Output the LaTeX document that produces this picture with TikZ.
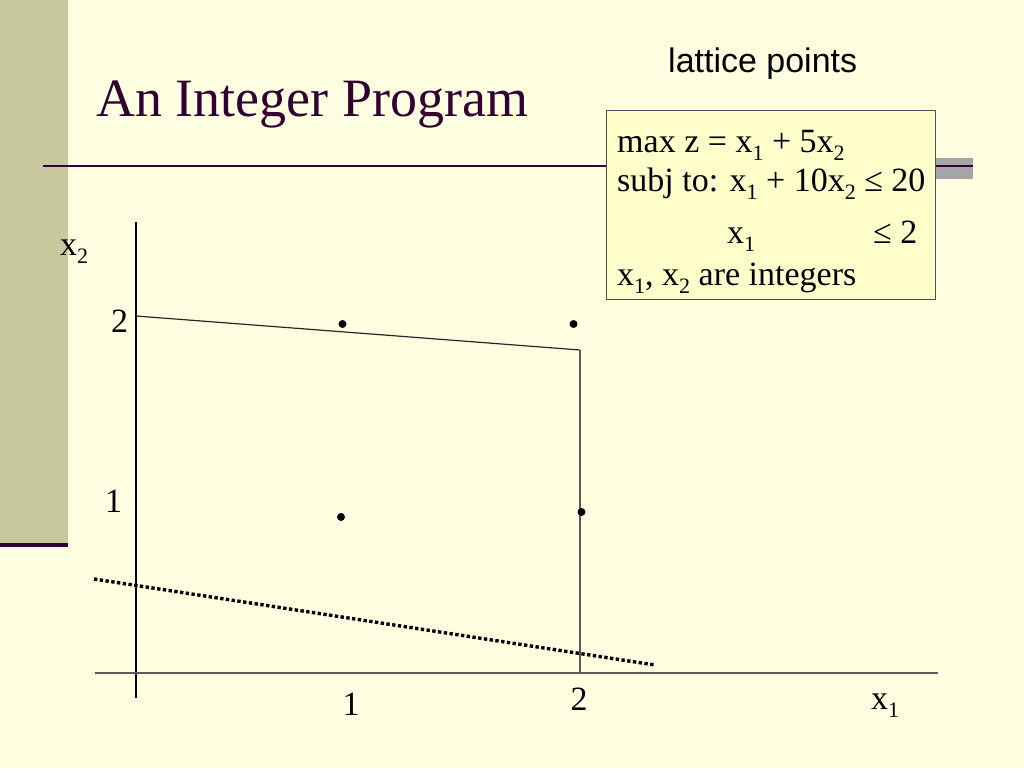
\documentclass[tikz,border=0pt]{standalone}
\usepackage{fontspec}
\setmainfont{Liberation Serif}
\newfontfamily\arialfont{Liberation Sans}
\definecolor{bgcol}{HTML}{FFFFE1}
\definecolor{barcol}{HTML}{C8C89E}
\definecolor{titlecol}{HTML}{330033}
\definecolor{boxfill}{HTML}{FFFFCC}
\definecolor{boxborder}{HTML}{505050}
\definecolor{graybar}{HTML}{A6A6A6}
\definecolor{axisgray}{HTML}{5A5A5A}
\newcommand{\sbs}[1]{\raisebox{-0.24em}{\fontsize{22}{24}\selectfont #1}}
\begin{document}
\begin{tikzpicture}[x=1pt,y=-1pt,
  lbl/.style={anchor=base west,inner sep=0,font=\fontsize{34}{40}\selectfont},
  lblc/.style={anchor=base,inner sep=0,font=\fontsize{34}{40}\selectfont},
  dot/.style={circle,fill=black,inner sep=0,minimum size=8pt},
  thinline/.style={line width=1.2pt},
  ]
\useasboundingbox (0,0) rectangle (1024,768);
\fill[bgcol] (0,0) rectangle (1024,768);
% left bar
\fill[barcol] (0,0) rectangle (68,545);
\draw[titlecol,line width=4pt] (0,545) -- (68,545);
% gray bar right
\fill[graybar] (935,158) rectangle (973,179);
% title line
\coordinate (tl1) at (43,166);
\coordinate (tl2) at (973,166);
\draw[titlecol,line width=2.5pt] (tl1) -- (tl2);
% title
\node[anchor=base west,inner sep=0,text=titlecol,font=\fontsize{54}{60}\selectfont] (title) at (96,116) {An Integer Program};
\node[anchor=base west,inner sep=0,font=\arialfont\fontsize{34}{40}\selectfont] (lattice) at (668,72) {lattice points};
% box
\node[draw=boxborder,fill=boxfill,line width=1pt,minimum width=329pt,minimum height=189pt,anchor=north west,inner sep=0] (box) at (606,110) {};
\node[lbl] (l1) at (617,152) {max z = x\sbs{1} + 5x\sbs{2}};
\node[lbl] (l2) at (617,191) {subj to: x\sbs{1} + 10x\sbs{2} ≤ 20};
\node[lbl] (l3a) at (727,243) {x\sbs{1}};
\node[lbl] (l3b) at (873,243) {≤ 2};
\node[lbl] (l4) at (617,285) {x\sbs{1}, x\sbs{2} are integers};
% axes
\coordinate (vtop) at (136,222);
\coordinate (vbot) at (136,698);
\coordinate (hl) at (95,673);
\coordinate (hr) at (938,673);
\draw[thinline,black] (vtop) -- (vbot);
\draw[thinline,axisgray] (hl) -- (hr);
% feasible region boundary
\coordinate (p1) at (136,316);
\coordinate (p2) at (580,350);
\coordinate (p3) at (580,673);
\draw[thinline,black!85] (p1) -- (p2);
\draw[thinline,axisgray] (p2) -- (p3);
% objective dotted line
\coordinate (d1) at (94,579);
\coordinate (d2) at (655,665);
\draw[line width=3.4pt,dash pattern=on 3.4pt off 2.4pt] (d1) -- (d2);
% lattice points
\node[dot] (a) at (342.5,324) {};
\node[dot] (b) at (573.5,324) {};
\node[dot] (c) at (341,517) {};
\node[dot] (d) at (581.5,512) {};
% labels
\node[lbl] (x2lab) at (60,255) {x\sbs{2}};
\node[lbl] (y2) at (111,332) {2};
\node[lbl] (y1) at (105,512) {1};
\node[lblc] (xa) at (351,715) {1};
\node[lblc] (xb) at (579,710) {2};
\node[lbl] (x1lab) at (871,709) {x\sbs{1}};
\end{tikzpicture}
\end{document}
